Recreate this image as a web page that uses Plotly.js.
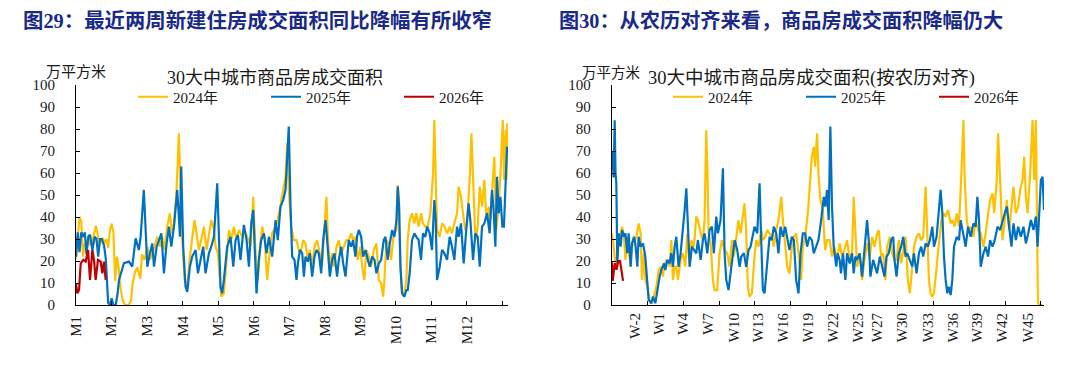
<!DOCTYPE html>
<html>
<head>
<meta charset="utf-8">
<script src="https://cdn.plot.ly/plotly-3.0.1.min.js"></script>
<style>html,body{margin:0;padding:0;background:#fff;}#chart{width:1080px;height:367px;}</style>
</head>
<body>
<div id="chart"></div>
<script>
// ---------- Figure 29: calendar-aligned (day of year) ----------
const leftMonthTicks = [0, 30.4, 60.8, 91.2, 121.6, 152, 182.4, 212.8, 243.2, 273.6, 304, 334.4, 364.8];
const leftMonthLabels = ['M1','M2','M3','M4','M5','M6','M7','M8','M9','M10','M11','M12',''];

const l24Day = [0,1.5,3,4.5,6,7.5,9.5,11,12.5,14,15.5,17,18.5,20,21.5,23,24.5,26,27.5,29,30.5,32,33.5,35,36.5,38,40,42,45,47,48.5,50.5,52.5,55,56.5,58.7,61,63.2,65.2,67.2,69.5,71.8,73.8,75.8,78,80.3,82.3,83.8,86,88,89.5,90.9,92.9,95.2,97.4,99.4,101.4,103.1,105.1,107.1,109.4,111.7,113.7,115.7,118,119.4,121.4,123.1,124.2,126.5,129.3,130.8,132.8,135,137.3,139.3,142.2,144.2,146.4,149.3,151.6,153.6,155.6,157.3,159.3,161.3,163.5,165.8,167.8,170.7,172.6,174.9,177.2,179.2,180.6,182,184,186.3,188.6,190.6,192,194.3,196.3,198.3,200,202,204,206.3,208.5,210.5,212,214.2,215.4,217.1,219.1,220.5,222.8,224.8,226.8,229,231.3,233.3,235.3,237,239,241,243.3,244.7,246.7,248.4,250.4,252.4,254.7,257,259,261,262.7,263.8,265.5,267.5,269.5,271.8,274.1,275.2,276.3,277.5,278.9,280.3,282.6,283.7,285.4,287.4,289.4,291.1,293.1,295.1,296.8,298.8,300.8,303.1,305.4,306.5,307.7,308.8,311.1,313.1,315.1,317.4,319.6,321.6,323.6,325.9,327.3,329.3,331,333,334.4,336.7,338.2,339.6,341.6,343.6,345.3,347.3,349.3,351,353,354.4,355.8,357.8,359.5,361.5,363.5,365,366.3,367.5,368.2,368.9];
const l24Val = [21,33,40,38,22,28,26,31,27,29,33,36,32,27,29,30,28,30,26,34,37,33,11,22,17,8,2,0,0,2,10,15,17,12,23,20.5,26.5,20.5,23.5,26.5,31,26.5,31,25,35.6,41.7,32.6,37.1,52.3,78,52.3,29.5,11.4,8.3,22,31,38.6,32.6,25,29.5,35.6,25,32.6,38.6,34.1,26.5,23.5,8.3,3.8,5.3,26.5,34.1,29.5,35.6,29.5,34.1,31,34.1,31,26.5,49.2,23.5,11.4,26.5,35.6,31,11.4,25,32.6,35.6,38.6,44.7,52.3,58.3,73.5,52.3,35.6,29.5,29.5,25,23.5,29.5,28,20.5,25,17.4,26.5,29.5,23.5,17.4,31,49.2,31,17.4,23.5,17.4,26.5,29.5,23.5,26.5,29.5,29.5,32.6,29.5,31,20.5,26.5,17.4,11.4,25,22,17.4,25,28,11.4,9.8,3.8,11.4,29.5,28,20.5,32.6,34.1,54.5,47.7,17.4,5.3,3.8,11.4,29.5,38.6,41.7,37.1,41.7,35.6,41.7,37.1,35.6,35.6,41.7,59.8,84.1,59.8,34.1,31,37.1,35.6,32.6,35.6,32.6,37.1,41.7,53.8,49.2,41.7,34.1,37.1,56.8,78,56.8,29.5,35.6,53.8,44.7,56.8,38.6,44.7,38.6,50.8,67.4,34.1,44.7,64.4,84.1,56.8,79.5,56.8,82.6];

const l25Day = [0,1.5,3,4.5,6,7.5,9,10.5,12,14,16,17.5,19,20.5,22,24,25.5,26.5,27.5,29,30.5,32,34,35.5,36.8,41,45.3,48.1,51,53.8,55.3,58,59.5,61,63.2,65.2,66.7,69,71,73,75.2,77.5,79.5,81.5,83.8,85.2,86.6,88.9,90,91.7,93.7,95.2,97.4,99.4,102.3,104.3,106.6,108.8,110.8,113.7,115.7,118,120.8,122.2,123.6,125,126.5,129.3,132.2,134.5,136.5,138.5,140.7,143.6,145.9,147.9,149.9,151.6,152.7,154.4,156.4,158.4,160.7,163,165,167.8,170.7,172.6,174.9,177.2,179.2,180.6,182,183.5,184.9,186.9,188.6,189.8,191.5,193.5,194.9,196.3,198.3,200,202,204,205.7,207.7,209.7,211.4,213.4,214.8,217.1,219.1,221.1,223.3,224.8,226.8,228.5,230.5,233.3,235.3,237,239,240.4,241.9,243.9,245.6,247.6,249.6,251.3,253.3,255.3,257,259,261,263.2,264.7,266.6,268.4,270.4,272.3,274.1,275.2,276.3,277.5,278.9,280.9,282.6,283.7,285.4,287.4,289.4,291.1,293.1,295.1,296.8,298.8,300.3,302.5,304.5,306.5,307.7,308.8,311.1,313.1,315.1,317.4,319.6,321.6,323.6,325.9,327.3,329.3,331.6,333.8,335.8,337.3,339.6,341.6,343.6,345.3,347.3,349.3,351.6,353.8,355.8,357.2,358.7,360.1,361.5,363,364.7,366,367.3,368.7];
const l25Val = [22,33,24,33,31,33,23,31,32,25,31,30,22,30,30,27,21,10,1,0,3,0,0,5,11.4,19,19.7,17.4,30.3,25,31,52.3,31,17.4,23.5,28,17.4,26.5,29.5,32.6,14.4,28,35.6,26.5,35.6,43.2,52.3,31,62.9,26.5,8.3,6,17.4,22,25,14.4,20.5,26.5,14.4,23.5,26.5,31,55.3,26.5,8.3,5.3,11.4,26.5,31,17.4,29.5,31.8,20.5,36.4,29.5,17.4,37.1,43.2,31,5.3,20.5,29.5,32.6,23.5,31,22,38.6,29.5,44.7,47.7,52.3,64.4,81.1,44.7,22,20.5,11.4,18.9,25,23.5,12.9,22,19.7,23.5,12.9,22,25,23.5,14.4,29.5,38.6,29.5,12.9,20.5,23.5,12.9,20.5,26.5,18.9,12.9,29.5,26.5,29.5,22,31,34.1,31,22,25,20.5,17.4,22,20.5,14.4,18.9,20.5,29.5,31,20.5,28,34.1,31,38.6,53.8,44.7,17.4,5.3,3.8,6.8,6.8,14.4,29.5,32.6,31,29.5,20.5,32.6,31,35.6,32.6,25,47.7,38.6,11.4,17.4,25,23.5,20.5,31,26.5,20.5,35.6,31,37.1,18.9,34.1,46.2,38.6,20.5,32.6,31,17.4,35.6,37.1,41.7,32.6,52.3,43.2,26.5,58.3,41.7,49.2,35.6,35.6,56.8,72];

const l26Day = [0,1.1,2.6,4,6.3,8.3,10.3,12,14,15.4,16.8,18.8,21.1,22.5,23.9,25.4];
const l26Val = [9.8,5.3,6.8,18.9,20.5,19.7,25,11.4,25,20.5,11.4,20.5,19.7,14.4,19.7,11.4];

// ---------- Figure 30: lunar-calendar aligned ----------
const rightTickDays = [0,30,60,90,120,150,180,210,240,270,300,330,360];
const rightWeekDays = [19.5,39.5,60,81,102.3,123,144,165,186,207,223,244,265.5,286,306.8,327.7,349];
const rightWeekLabels = ['W-2','W1','W4','W7','W10','W13','W16','W19','W22','W25','W27','W30','W33','W36','W39','W42','W45'];

const r24Day = [0,1.1,2.5,3.9,5.3,6.7,8.7,10.3,11.5,13.1,14.2,15.9,17,18.7,20.7,22.6,24.3,25.4,27.1,28.2,29.9,31.8,33.8,35.5,37.4,39.4,41.1,43,44.4,46.6,48.6,50,51.4,52.8,54.2,55.6,57.8,59.8,61.7,63.4,65.4,66.8,69,70.9,72.3,74.6,76.5,77.9,79.3,80.2,81.3,83,84.9,86.3,88.5,90.5,92.4,94.7,96.9,98.9,100.8,102.5,104.5,106.4,108.1,110,111.4,112.8,114.2,115.6,117.6,119.3,121.2,123.2,125.4,126.8,128.8,130.4,132.4,134.3,136,138,139.9,142.2,143.6,145,147.2,149.1,151.1,152.8,154.7,156.7,158.9,160.3,162.3,164.5,166.7,167.9,169.5,170.6,172.3,173.4,175.1,177.1,179,180.7,182.8,184.8,186.7,189,191.2,193.2,195.1,197.4,199.6,201.6,203,204.4,205.8,208,210,212,214.2,216.5,218.4,220.4,222.6,224,226,227.7,229.6,231,233.3,235.2,237.2,238.9,240.8,242.8,245.1,246.5,248.4,250.1,252.1,253.5,255.7,257.7,259.6,261.3,263.3,264.7,266.1,267.5,268.9,270.3,272.5,274.5,276.5,278.1,280.1,282.1,284.3,285.7,287.7,289.4,291.3,293.3,295,296.1,297.8,299.7,301.1,303.4,305.3,307.3,309.5,311.8,313.7,315.7,317.4,319.4,320.8,323,324.1,325.8,327.8,329.7,331.4,333.4,335.3,337,339,340.9,342.6,344.6,346,347.4,348.8,351,353,354.4,355.8,356.6,357.5,358.6,361.4];
const r24Val = [32.6,29.5,22,17.4,28,31,35.6,31,20.5,31,26.5,17.4,26.5,28,31,37.1,32.6,11.4,23.5,11.4,8.3,2.3,0.8,3.8,8.3,15.9,17.4,12.9,18.9,20.5,17.4,29.5,11.4,17.4,17.4,11.4,20.5,23.5,17.4,32.6,17.4,29.5,26.5,40.2,38.6,32.6,29.5,38.6,79.5,62.9,32.6,28,11.4,6.8,6.8,23.5,29.5,25,23.5,17.4,29.5,22,29.5,38.6,32.6,41.7,46.2,34.1,8.3,3.8,5.3,18.9,29.5,26.5,34.1,29.5,31,34.1,32.6,31,26.5,34.1,38.6,49.2,38.6,31,17.4,14.4,26.5,31,32.6,23.5,11.4,26.5,31,41.7,56.8,67.4,72,62.9,78,59.8,47.7,43.2,25,29.5,29.5,22,26.5,20.5,28,22,25,29.5,20.5,23.5,49.2,31,17.4,23.5,11.4,20.5,28,22,31,26.5,32.6,34.1,22,23.5,11.4,26.5,31,23.5,20.5,20.5,29.5,18.9,26.5,31,11.4,5.3,17.4,26.5,31,32.6,29.5,31,53.8,31,11.4,5.3,3.8,5.3,17.4,29.5,38.6,41.7,40.2,43.2,37.1,38.6,35.6,41.7,35.6,59.8,84.1,56.8,38.6,32.6,35.6,31,38.6,34.1,32.6,26.5,32.6,41.7,47.7,50.8,41.7,56.8,78,56.8,29.5,38.6,47.7,34.1,44.7,53.8,41.7,44.7,52.3,56.8,67.4,49.2,41.7,59.8,84.1,56.8,84.1,53.8,0.8,0,0];

const r25Day = [0,0.8,1.6,2.5,3.2,3.9,4.7,5.9,7.5,8.7,10.3,11.5,13.1,14.2,15.9,17,18.7,19.8,21.5,22.6,24.3,26.3,28.2,29.9,31,33.2,34.6,36.6,38.3,40.2,41.6,43.9,45,46.6,48.6,50,51.4,52.8,54.2,56.1,57.8,59.8,61.2,62.6,64,65.4,67.3,69,70.9,72.3,74.6,76.5,77.9,80.2,82.1,84.1,85.7,87.7,89.1,91.3,93.3,94.7,96.1,98,99.7,101.7,103.1,105.3,107.3,108.6,110.9,112.8,114.8,116.5,118.4,119.8,122.1,124,125.4,126.8,128.2,130.4,132.4,134.3,136,138,139.9,141.6,143.6,145.5,147.2,149.1,151.1,152.8,154.7,156.7,158.4,160.3,162.3,163.9,165.9,167.9,169.5,171.5,173.4,175.7,177.9,179.2,180.6,182,183.4,184.8,186.2,188.4,189.5,191.2,192.3,194,196,197.4,199.6,201.6,203,204.4,205.8,208,210,212,214.2,215.6,217,219.3,221.2,222.6,224.9,226.8,228.8,230.5,232.4,234.4,236.1,237.2,238.9,240.8,242.8,244.5,246.5,247.9,250.1,252.1,253.5,255.7,257.7,259.6,261.3,263.3,265.2,266.9,268.9,270.3,272.5,274.5,275.9,277.3,278.7,280.1,281.5,282.9,284.3,285.7,287.1,289.4,291.3,292.7,295,296.9,298.9,301.1,303.4,305.3,306.7,308.1,309.5,311.8,313.7,315.7,317.4,319.4,321.3,323.6,325.8,327.8,329.7,331.4,333.4,335.3,337,339,340.9,343.2,345.4,347.4,349.4,351.6,353.8,355.8,357.2,358.6,360,361.4,362.6];
const r25Val = [61,70,58,84,60,55,18.9,32.6,26.5,34.1,31,32.6,23.5,32.6,17.4,28,31,28,17.4,31,26.5,28,22,11.4,2.3,0.8,3.8,0.8,6.8,12.9,15.9,18.9,15.9,20.5,18.9,23.5,17.4,26.5,31,17.4,23.5,34.1,43.2,53,31,17.4,26.5,25,23.5,29.5,20.5,29.5,32.6,23.5,34.1,35.6,23.5,40.2,32.6,38.6,62.1,23.5,11.4,6.8,14.4,23.5,29.5,25,17.4,22,23.5,17.4,25,26.5,31,35.6,32.6,55.3,29.5,6.8,5.3,17.4,31,29.5,35.6,32.6,23.5,35.6,31,35.6,31,25,31,29.5,11.4,5.3,23.5,32.6,32.6,26.5,31,29.5,23.5,26.5,29.5,38.6,49.2,44.7,52.3,38.6,81.1,44.7,26.5,17.4,23.5,20.5,14.4,23.5,11.4,23.5,18.9,23.5,14.4,22,20.5,23.5,12.9,25,38.6,29.5,12.9,20.5,17.4,14.4,22,17.4,12.9,22,23.5,29.5,31,20.5,12.9,23.5,26.5,31,22,23.5,20.5,17.4,23.5,14.4,23.5,26.5,22,28,26.5,29.5,35.6,26.5,31,41.7,52.3,41.7,22,11.4,5.3,8.3,4.5,11.4,26.5,31,29.5,38.6,31,26.5,35.6,31,37.1,35.6,49.2,38.6,17.4,23.5,26.5,22,29.5,26.5,29.5,35.6,34.1,38.6,41.7,44.7,34.1,26.5,37.1,29.5,35.6,31,35.6,28,32.6,38.6,34.1,40.2,26.5,41.7,56.8,58.3,43.2];

const r26Day = [0,0.9,2.5,4,5.5,7,9.5];
const r26Val = [20,11,19,16,20,20,11];

const seriesNames = ['2024年','2025年','2026年'];
const seriesColors = ['#FFC000','#0070C0','#C00000'];

// ---------- build ----------
const serif = '"Liberation Serif", "Times New Roman", "Noto Sans CJK SC", serif';
function line(x, y, i, xa, ya, leg, show) {
  return {x: x, y: y, type: 'scatter', mode: 'lines', name: seriesNames[i],
    line: {color: seriesColors[i], width: 2.2, shape: 'linear'},
    xaxis: xa, yaxis: ya, legend: leg, showlegend: show, hoverinfo: 'skip'};
}
const data = [
  line(l24Day, l24Val, 0, 'x', 'y', 'legend', true),
  line(l25Day, l25Val, 1, 'x', 'y', 'legend', true),
  line(l26Day, l26Val, 2, 'x', 'y', 'legend', true),
  line(r24Day, r24Val, 0, 'x2', 'y2', 'legend2', true),
  line(r25Day, r25Val, 1, 'x2', 'y2', 'legend2', true),
  line(r26Day, r26Val, 2, 'x2', 'y2', 'legend2', true),
  // carrier for the week-label axis (no visible mark)
  {x: [rightWeekDays[0]], y: [null], type: 'scatter', mode: 'lines', xaxis: 'x3', yaxis: 'y2',
   showlegend: false, hoverinfo: 'skip', line: {width: 0}}
];

const W = 1080, H = 367;
const px = v => v / W, py = v => 1 - v / H;
const tickFont = {family: serif, size: 15, color: '#1a1a1a'};
const yAxisBase = {range: [0, 100], dtick: 10, tick0: 0, showgrid: false, zeroline: false,
  showline: true, linecolor: '#000', linewidth: 1, ticks: 'inside', ticklen: 4, tickcolor: '#000',
  tickfont: tickFont, ticklabelstandoff: 17, fixedrange: true, domain: [py(305), py(85)]};
const legendBase = {orientation: 'h', xanchor: 'left', yanchor: 'middle',
  entrywidth: 88, entrywidthmode: 'pixels', font: {family: serif, size: 15, color: '#1a1a1a'},
  bgcolor: 'rgba(0,0,0,0)', itemclick: false, itemdoubleclick: false, traceorder: 'normal'};

const layout = {
  width: W, height: H, margin: {l: 0, r: 0, t: 0, b: 0},
  paper_bgcolor: '#fff', plot_bgcolor: 'rgba(0,0,0,0)',
  font: {family: serif, color: '#1a1a1a'},
  xaxis: {domain: [px(76), px(508)], range: [0, 369.5], tickmode: 'array', tickvals: leftMonthTicks,
    ticktext: leftMonthLabels, tickangle: -90, showgrid: false, zeroline: false, showline: true,
    linecolor: '#000', linewidth: 1, ticks: 'inside', ticklen: 4, tickcolor: '#000',
    tickfont: tickFont, ticklabelstandoff: 4, anchor: 'y'},
  yaxis: Object.assign({}, yAxisBase, {anchor: 'x'}),
  xaxis2: {domain: [px(611.7), px(1044)], range: [0, 362.6], tickmode: 'array', tickvals: rightTickDays,
    showticklabels: false, showgrid: false, zeroline: false, showline: true,
    linecolor: '#000', linewidth: 1, ticks: 'inside', ticklen: 4, tickcolor: '#000', anchor: 'y2'},
  xaxis3: {overlaying: 'x2', anchor: 'y2', range: [0, 362.6], tickmode: 'array', tickvals: rightWeekDays,
    ticktext: rightWeekLabels, tickangle: -90, ticks: '', showline: false, showgrid: false,
    zeroline: false, tickfont: tickFont, ticklabelstandoff: 4, side: 'bottom', showticklabels: true},
  yaxis2: Object.assign({}, yAxisBase, {anchor: 'x2'}),
  legend: Object.assign({}, legendBase, {x: px(133), y: py(97)}),
  legend2: Object.assign({}, legendBase, {x: px(668), y: py(97)}),
  annotations: [
    {text: '<b>图29：最近两周新建住房成交面积同比降幅有所收窄</b>', xref: 'paper', yref: 'paper',
     x: px(21), y: py(20), xanchor: 'left', yanchor: 'middle', showarrow: false,
     font: {family: serif, size: 20.4, color: '#1b2a88'}},
    {text: '<b>图30：从农历对齐来看，商品房成交面积降幅仍大</b>', xref: 'paper', yref: 'paper',
     x: px(557), y: py(20), xanchor: 'left', yanchor: 'middle', showarrow: false,
     font: {family: serif, size: 20.2, color: '#1b2a88'}},
    {text: '30大中城市商品房成交面积', xref: 'paper', yref: 'paper', x: px(275), y: py(78),
     xanchor: 'center', yanchor: 'middle', showarrow: false, font: {family: serif, size: 18, color: '#1a1a1a'}},
    {text: '30大中城市商品房成交面积(按农历对齐)', xref: 'paper', yref: 'paper', x: px(811), y: py(78),
     xanchor: 'center', yanchor: 'middle', showarrow: false, font: {family: serif, size: 18.5, color: '#1a1a1a'}},
    {text: '万平方米', xref: 'paper', yref: 'paper', x: px(44), y: py(72), xanchor: 'left', yanchor: 'middle',
     showarrow: false, font: {family: serif, size: 15, color: '#1a1a1a'}},
    {text: '万平方米', xref: 'paper', yref: 'paper', x: px(580), y: py(73), xanchor: 'left', yanchor: 'middle',
     showarrow: false, font: {family: serif, size: 14.5, color: '#1a1a1a'}}
  ]
};

Plotly.newPlot('chart', data, layout, {staticPlot: true, displayModeBar: false});
</script>
</body>
</html>
